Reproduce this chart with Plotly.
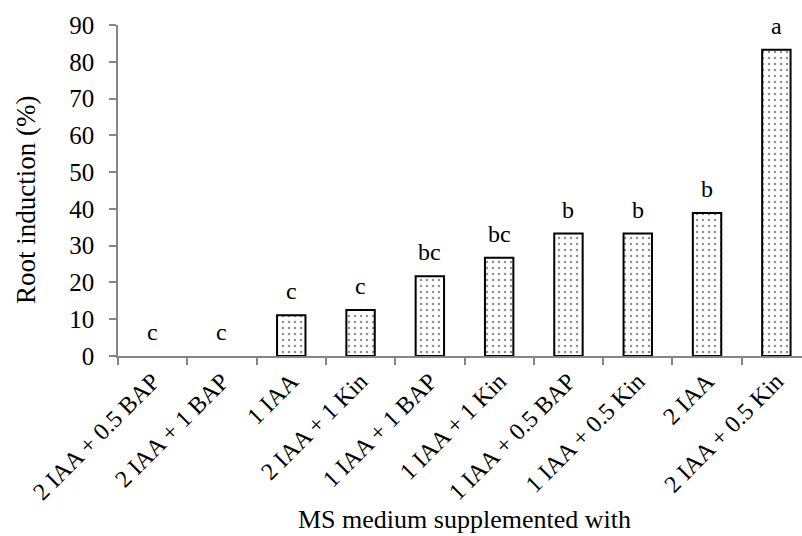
import plotly.graph_objects as go

categories = ["2 IAA + 0.5 BAP", "2 IAA + 1 BAP", "1 IAA", "2 IAA + 1 Kin", "1 IAA + 1 BAP",
              "1 IAA + 1 Kin", "1 IAA + 0.5 BAP", "1 IAA + 0.5 Kin", "2 IAA", "2 IAA + 0.5 Kin"]
root_induction = [0, 0, 11.1, 12.5, 21.7, 26.7, 33.3, 33.3, 38.9, 83.3]
letters = ["c", "c", "c", "c", "bc", "bc", "b", "b", "b", "a"]
y_ticks = [0, 10, 20, 30, 40, 50, 60, 70, 80, 90]

FONT = "Liberation Serif, Times New Roman, serif"
AXIS_COLOR = "#868686"

fig = go.Figure()
fig.add_trace(go.Bar(
    x=categories, y=root_induction, width=0.41,
    marker=dict(color="white",
                line=dict(color="black", width=[2 if v > 0 else 0 for v in root_induction]),
                pattern=dict(shape=".", fgcolor="#222222", bgcolor="white", size=6, solidity=0.14)),
    showlegend=False, hoverinfo="skip",
))

for c, v, l in zip(categories, root_induction, letters):
    fig.add_annotation(x=c, y=v, text=l, showarrow=False, yanchor="bottom", yshift=9,
                       font=dict(family=FONT, size=24, color="black"))

fig.add_annotation(xref="paper", yref="paper", x=(26 - 118) / 684, y=(356 - 200) / 331,
                   text="Root induction (%)", textangle=-90, showarrow=False,
                   xanchor="center", yanchor="middle", font=dict(family=FONT, size=27, color="black"))
fig.add_annotation(xref="x", yref="paper", x=4.5, y=(356 - 519) / 331,
                   text="MS medium supplemented with", showarrow=False,
                   xanchor="center", yanchor="middle", font=dict(family=FONT, size=26, color="black"))

fig.update_layout(
    width=802, height=536,
    margin=dict(l=118, r=0, t=25, b=180, autoexpand=False),
    plot_bgcolor="white", paper_bgcolor="white",
    font=dict(family=FONT, color="black"),
    xaxis=dict(type="category", range=[-0.5, 9.37], showline=True, linecolor=AXIS_COLOR, linewidth=1.5,
               ticks="outside", tickson="boundaries", ticklen=7, tickcolor=AXIS_COLOR, tickwidth=1.5,
               tickangle=-45, tickfont=dict(family=FONT, size=24, color="black"), showgrid=False,
               automargin=False),
    yaxis=dict(range=[0, 90], tickvals=y_ticks, showline=True, linecolor=AXIS_COLOR, linewidth=1.5,
               ticks="outside", ticklen=7, tickcolor=AXIS_COLOR, tickwidth=1.5, showgrid=False,
               zeroline=False, tickfont=dict(family=FONT, size=25, color="black"), automargin=False,
               ticklabelstandoff=10),
    bargap=0.59,
)

fig.write_html("out.html", config={"displayModeBar": False},
               post_script="document.body.style.margin='0px';")
